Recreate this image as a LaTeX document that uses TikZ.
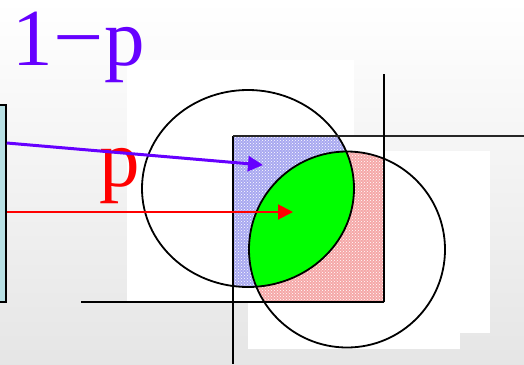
\documentclass[tikz,border=0pt]{standalone}
\usepackage{fontspec}
\newfontfamily\labelfont{Liberation Serif}
\usetikzlibrary{arrows.meta, positioning, patterns}
\definecolor{violetp}{RGB}{102,0,255}
\definecolor{boxcyan}{RGB}{184,224,228}
\definecolor{hatchblue}{RGB}{168,168,240}
\definecolor{hatchred}{RGB}{245,168,168}

\begin{document}
\begin{tikzpicture}[x=1pt, y=-1pt,
  axis/.style={line width=2pt},
  rim/.style={draw, line width=1.8pt},
  dots/.style={pattern=crosshatch dots, pattern color=white},
  arr/.style={-{Triangle[length=15pt, width=15pt]}},
  big/.style={font=\labelfont\fontsize{81}{81}\selectfont, inner sep=0pt,
              text height=55pt, anchor=base west}
]
  % background
  \useasboundingbox (0,0) rectangle (524,364);
  \shade[top color=white, bottom color=black!10] (0,0) rectangle (524,364);
  \fill[white] (127,60) rectangle (354,302);
  \fill[white] (385,151) rectangle (490,333);
  \fill[white] (248,302) rectangle (460,349);
  \fill[white] (233,136) rectangle (384,302);

  % hatched parts of the square
  \begin{scope}
    \clip (233,136) rectangle (384,302);
    \fill[hatchblue] (248,188.5) ellipse [x radius=106, y radius=98.5];
    \fill[dots] (248,188.5) ellipse [x radius=106, y radius=98.5];
    \fill[hatchred] (347,249.5) circle [radius=98];
    \fill[dots] (347,249.5) circle [radius=98];
  \end{scope}
  \begin{scope}
    \clip (248,188.5) ellipse [x radius=106, y radius=98.5];
    \fill[green] (347,249.5) circle [radius=98];
  \end{scope}
  \path[rim] (248,188.5) ellipse [x radius=106, y radius=98.5];
  \path[rim] (347,249.5) circle [radius=98];

  % axes
  \draw[axis] (81,302) -- (384,302);
  \draw[axis] (233,136) -- (233,364);
  \draw[axis, black!85] (233,136) -- (524,136);
  \draw[axis] (384,74) -- (384,302);

  % source box and labels
  \node[draw, line width=1.5pt, fill=boxcyan, minimum width=20pt,
        minimum height=197pt, inner sep=0pt] (src) at (-4,203.5) {};
  \node[big, text=violetp] (onep) at (12,65)
    {1\kern6pt\raisebox{.11em}{\textendash}\kern5pt p};
  \node[big, text=red] (prob) at (99,186) {p};

  % arrows
  \coordinate (blueTip) at (263,165);
  \coordinate (redTip) at (293,212);
  \draw[arr, violetp, line width=3pt] (src.east |- 0,143) -- (blueTip);
  \draw[arr, red, line width=2pt] (src.east |- 0,212) -- (redTip);
\end{tikzpicture}
\end{document}
